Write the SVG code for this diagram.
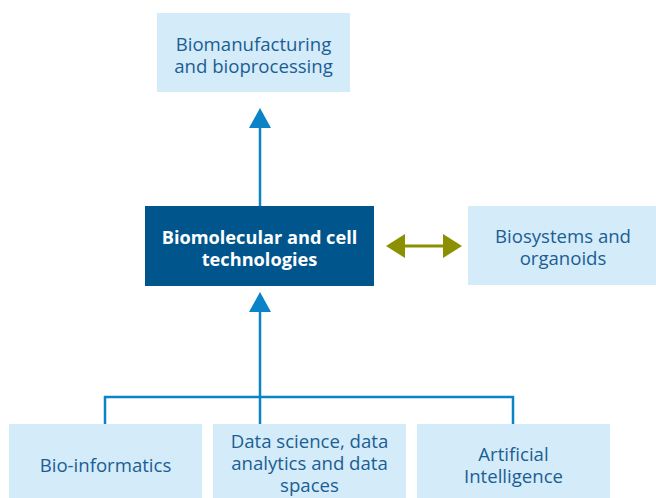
<svg xmlns="http://www.w3.org/2000/svg" width="656" height="498" viewBox="0 0 656 498">
<style>
.lb{fill:#d4ebfa}
.db{fill:#00558c}
.t{font-family:"Open Sans","Noto Sans",sans-serif;font-size:18.6px;fill:#1b5e93;text-anchor:middle}
.tw{font-family:"Open Sans","Noto Sans",sans-serif;font-size:18.2px;font-weight:bold;fill:#ffffff;text-anchor:middle}
.ln{stroke:#0a84c6;stroke-width:2.5;fill:none}
</style>
<rect width="656" height="498" fill="#ffffff"/>
<g id="connectors">
<path class="ln" d="M260,206 V126"/>
<polygon points="260,108 249,128 271,128" fill="#0a84c6"/>
<path class="ln" d="M105,424 V397 H513 V424 M260,424 V310"/>
<polygon points="260,292 249,312 271,312" fill="#0a84c6"/>
<path d="M402,246 H446" stroke="#8a9000" stroke-width="3" fill="none"/>
<polygon points="386,246 405,234 405,258" fill="#8a9000"/>
<polygon points="462,246 443,234 443,258" fill="#8a9000"/>
</g>
<g id="node-biomanufacturing">
<rect class="lb" x="157" y="13" width="193" height="79"/>
<text class="t" x="253.5" y="51">Biomanufacturing</text>
<text class="t" x="253.5" y="73">and bioprocessing</text>
</g>
<g id="node-biomolecular">
<rect class="db" x="145" y="206" width="229" height="80"/>
<text class="tw" x="259.5" y="244">Biomolecular and cell</text>
<text class="tw" x="259.5" y="266">technologies</text>
</g>
<g id="node-biosystems">
<rect class="lb" x="468" y="206" width="188" height="79"/>
<text class="t" x="563" y="243">Biosystems and</text>
<text class="t" x="563" y="265">organoids</text>
</g>
<g id="node-bioinformatics">
<rect class="lb" x="9" y="424" width="193" height="74"/>
<text class="t" x="105.5" y="472">Bio-informatics</text>
</g>
<g id="node-datascience">
<rect class="lb" x="213" y="424" width="193" height="74"/>
<text class="t" x="309.5" y="448">Data science, data</text>
<text class="t" x="309.5" y="470">analytics and data</text>
<text class="t" x="309.5" y="492">spaces</text>
</g>
<g id="node-ai">
<rect class="lb" x="417" y="424" width="193" height="74"/>
<text class="t" x="513.5" y="461">Artificial</text>
<text class="t" x="513.5" y="483">Intelligence</text>
</g>
</svg>
